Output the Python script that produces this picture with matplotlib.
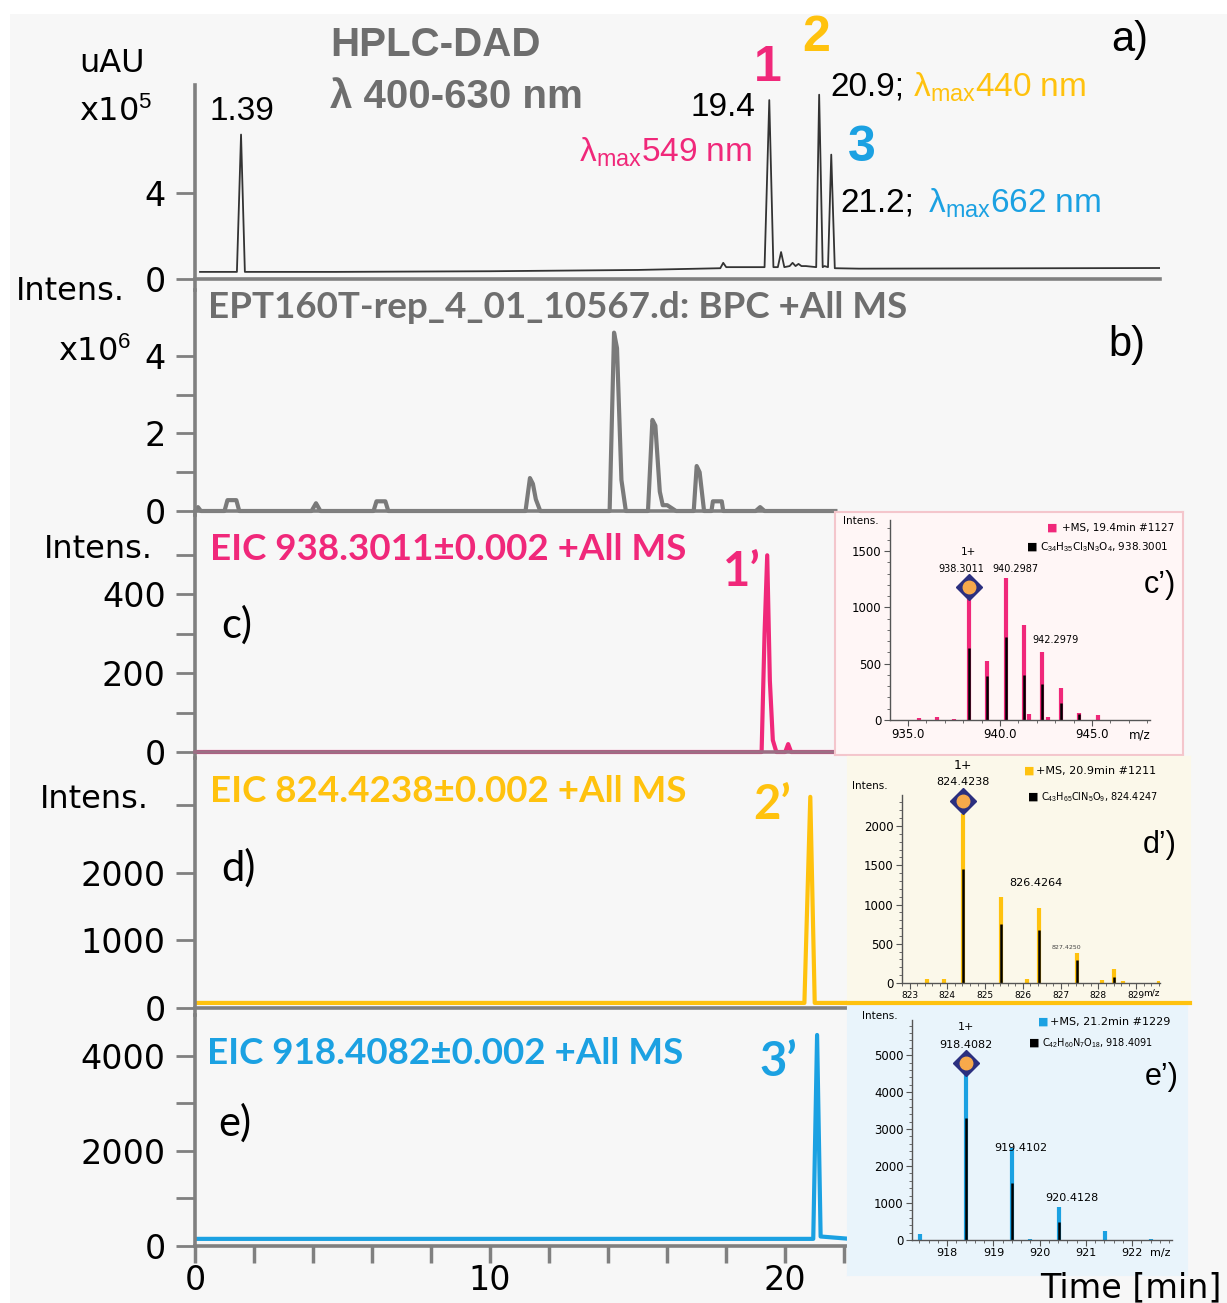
import numpy as np
import matplotlib
matplotlib.use('Agg')
import matplotlib.pyplot as plt
from matplotlib.patches import Rectangle
from matplotlib.ticker import MultipleLocator, FixedLocator

# ---- data ----
# a) HPLC-DAD trace (min, x10^5 uAU)
hplc_t = [0.17, 1.42, 1.56, 1.69, 4.75, 10.0, 15.0, 17.8, 17.9, 18.0, 19.3, 19.46, 19.6, 19.75, 19.86,
          19.97, 20.15, 20.25, 20.35, 20.45, 20.55, 20.7, 21.05, 21.15, 21.27, 21.33, 21.45, 21.56, 21.68,
          22.5, 32.7]
hplc_y = [0.33, 0.33, 6.7, 0.33, 0.33, 0.36, 0.42, 0.5, 0.75, 0.55, 0.55, 8.3, 0.55, 0.55, 1.25,
          0.55, 0.6, 0.75, 0.6, 0.7, 0.6, 0.6, 0.55, 8.55, 0.55, 0.6, 0.55, 5.77, 0.5,
          0.48, 0.51]

# b) BPC trace (min, x10^6)
bpc_t = [0.0, 0.1, 0.2, 1.0, 1.1, 1.4, 1.5, 3.95, 4.1, 4.25, 6.05, 6.15, 6.45, 6.55, 11.2, 11.35, 11.45,
         11.55, 11.7, 14.05, 14.2, 14.3, 14.45, 14.6, 15.35, 15.5, 15.6, 15.75, 15.85, 16.0, 16.3, 16.9,
         17.0, 17.1, 17.25, 17.5, 17.55, 17.85, 17.9, 19.0, 19.15, 19.3, 21.7]
bpc_y = [0, 0.1, 0, 0, 0.28, 0.28, 0, 0, 0.2, 0, 0, 0.25, 0.25, 0, 0, 0.85, 0.7,
         0.3, 0, 0, 4.6, 4.2, 0.8, 0, 0, 2.35, 2.2, 0.5, 0.15, 0.15, 0, 0,
         1.16, 1.0, 0, 0, 0.25, 0.25, 0, 0, 0.1, 0, 0]

# c-e) EIC traces
eic1_t = [0, 19.2, 19.3, 19.39, 19.48, 19.58, 19.7, 20.0, 20.1, 20.2, 21.7]
eic1_y = [0, 0, 300, 498, 180, 30, 0, 0, 20, 0, 0]
eic2_t = [0, 20.65, 20.85, 21.0, 22.2]
eic2_y = [75, 75, 3125, 75, 75]
eic3_t = [0, 20.95, 21.08, 21.2, 22.2]
eic3_y = [150, 150, 4440, 200, 150]

# mass spectra: measured (coloured) and simulated (black) peaks
ms1_mz = [935.6, 936.6, 937.5, 938.3, 939.3, 940.3, 941.3, 941.6, 942.3, 942.6, 943.3, 944.3, 945.3]
ms1_i = [15, 30, 12, 1075, 520, 1260, 840, 50, 600, 30, 280, 65, 45]
sim1_mz = [938.3, 939.3, 940.3, 941.3, 942.3, 943.3, 944.3]
sim1_i = [640, 390, 740, 400, 320, 150, 50]

ms2_mz = [823.45, 823.9, 824.42, 825.42, 826.1, 826.42, 827.42, 828.1, 828.42, 828.65, 829.6]
ms2_i = [50, 50, 2150, 1100, 45, 950, 380, 40, 180, 30, 30]
sim2_mz = [824.42, 825.42, 826.42, 827.42, 828.42]
sim2_i = [1450, 750, 680, 290, 80]

ms3_mz = [917.42, 918.41, 919.41, 919.8, 920.41, 921.41, 922.4]
ms3_i = [150, 4700, 2500, 30, 900, 250, 30]
sim3_mz = [918.41, 919.41, 920.41]
sim3_i = [3300, 1550, 480]

PINK = '#f0287a'
YEL = '#ffc20e'
BLUE = '#1ba1e2'
GREY = '#808080'
TGREY = '#6e6e6e'

W, H = 1227, 1303
plt.rcParams['font.family'] = ['DejaVu Sans']
plt.rcParams['mathtext.fontset'] = 'custom'
plt.rcParams['mathtext.rm'] = 'Liberation Sans'
plt.rcParams['mathtext.it'] = 'Liberation Sans'

fig = plt.figure(figsize=(W / 100, H / 100), dpi=100, facecolor='white')
fig.patches.append(Rectangle((10 / W, 0), 1, 1 - 14 / H, transform=fig.transFigure,
                             facecolor='#f7f7f7', edgecolor='none', zorder=-10))


def box(x0, y0, x1, y1):
    return [x0 / W, 1 - y1 / H, (x1 - x0) / W, (y1 - y0) / H]


def ftext(x, y, s, **kw):
    kw.setdefault('ha', 'center')
    kw.setdefault('va', 'center')
    return fig.text(x / W, 1 - y / H, s, **kw)


def panel(top, zero, bottom, ymax, xend):
    ax = fig.add_axes(box(195, top, 1160, bottom))
    ax.patch.set_alpha(0)
    ymin = -(bottom - zero) * ymax / (zero - top)
    ax.set_ylim(ymin, ymax)
    ax.set_xlim(0, 32.7)
    for s in ['top', 'right']:
        ax.spines[s].set_visible(False)
    ax.spines['left'].set_color(GREY)
    ax.spines['left'].set_linewidth(2.6)
    ax.spines['bottom'].set_position(('data', 0))
    ax.spines['bottom'].set_color(GREY)
    ax.spines['bottom'].set_linewidth(2.6)
    ax.spines['bottom'].set_bounds(0, xend)
    ax.tick_params(axis='y', which='both', direction='out', color=GREY, width=2, labelsize=24, pad=7)
    ax.tick_params(axis='y', which='major', length=14)
    ax.tick_params(axis='y', which='minor', length=14)
    ax.tick_params(axis='x', which='both', bottom=False, labelbottom=False)
    return ax


# a) HPLC-DAD
ax_a = panel(85, 279, 290, 9.0, 32.7)
ax_a.plot(hplc_t, hplc_y, color='#333333', lw=1.3)
ax_a.yaxis.set_major_locator(FixedLocator([0, 4]))

# b) BPC
ax_b = panel(290, 511, 515, 5.7, 21.7)
ax_b.plot(bpc_t, bpc_y, color='#7a7a7a', lw=3)
ax_b.yaxis.set_major_locator(FixedLocator([0, 2, 4]))
ax_b.yaxis.set_minor_locator(FixedLocator([1, 3]))

# c) EIC 1
ax_c = panel(515, 752, 758, 600, 21.7)
ax_c.plot(eic1_t, eic1_y, color=PINK, lw=3)
ax_c.spines['bottom'].set_color('#9b6f84')
ax_c.yaxis.set_major_locator(FixedLocator([0, 200, 400]))
ax_c.yaxis.set_minor_locator(FixedLocator([100, 300, 500]))

# d) EIC 2
ax_d = panel(758, 1008, 1015, 3700, 22.2)
ax_d.plot(eic2_t, eic2_y, color=YEL, lw=3)
ax_d.yaxis.set_major_locator(FixedLocator([0, 1000, 2000]))
ax_d.yaxis.set_minor_locator(FixedLocator([3000]))

# e) EIC 3
ax_e = panel(1015, 1246, 1246, 4860, 22.2)
ax_e.plot(eic3_t, eic3_y, color=BLUE, lw=3)
ax_e.yaxis.set_major_locator(FixedLocator([0, 2000, 4000]))
ax_e.yaxis.set_minor_locator(FixedLocator([1000, 3000]))
ax_e.tick_params(axis='x', which='both', bottom=True, labelbottom=True, direction='out',
                 color=GREY, width=2.5, length=12, labelsize=24, pad=1)
ax_e.xaxis.set_major_locator(FixedLocator([0, 10, 20]))
ax_e.xaxis.set_minor_locator(FixedLocator([2, 4, 6, 8, 12, 14, 16, 18, 22]))

# ---- axis captions ----
ftext(112, 63, 'uAU', fontsize=23)
ftext(116, 112, r'x10$^{5}$', fontsize=23)
ftext(70, 291, 'Intens.', fontsize=23)
ftext(95, 352, r'x10$^{6}$', fontsize=23)
ftext(98, 549, 'Intens.', fontsize=23)
ftext(94, 800, 'Intens.', fontsize=23)
ftext(1222, 1288, 'Time [min]', fontsize=24, ha='right')

# ---- panel a annotations ----
arial = 'Liberation Sans'
ftext(330, 45, 'HPLC-DAD', family=arial, weight='bold', fontsize=29, color=TGREY, ha='left')
ftext(330, 97, 'λ 400-630 nm', family=arial, weight='bold', fontsize=29, color=TGREY, ha='left')
ftext(210, 112, '1.39', family=arial, fontsize=24, ha='left')
ftext(755, 107, '19.4', family=arial, fontsize=24, ha='right')
ftext(752, 152, r'λ$_{\mathrm{max}}$549 nm', family=arial, fontsize=24, color=PINK, ha='right')
ftext(768, 68, '1', family=arial, weight='bold', fontsize=36, color=PINK)
ftext(816, 38, '2', family=arial, weight='bold', fontsize=36, color=YEL)
ftext(862, 148, '3', family=arial, weight='bold', fontsize=36, color=BLUE)
ftext(830, 87, '20.9;', family=arial, fontsize=24, ha='left')
ftext(913, 87, r'λ$_{\mathrm{max}}$440 nm', family=arial, fontsize=24, color=YEL, ha='left')
ftext(840, 203, '21.2;', family=arial, fontsize=24, ha='left')
ftext(928, 203, r'λ$_{\mathrm{max}}$662 nm', family=arial, fontsize=24, color=BLUE, ha='left')
ftext(1130, 40, 'a)', family=arial, fontsize=30)

# ---- panel b-e titles ----
lato = 'Lato'
ftext(208, 307, 'EPT160T-rep_4_01_10567.d: BPC +All MS', family=lato, weight='bold',
      fontsize=26.5, color=TGREY, ha='left')
ftext(1127, 345, 'b)', family=arial, fontsize=30)
ftext(210, 549, 'EIC 938.3011±0.002 +All MS', family=lato, weight='bold', fontsize=26.5, color=PINK, ha='left')
ftext(210, 792, 'EIC 824.4238±0.002 +All MS', family=lato, weight='bold', fontsize=26.5, color=YEL, ha='left')
ftext(207, 1053, 'EIC 918.4082±0.002 +All MS', family=lato, weight='bold', fontsize=26.5, color=BLUE, ha='left')
ftext(742, 572, '1’', family=lato, weight='bold', fontsize=34, color=PINK)
ftext(772, 805, '2’', family=lato, weight='bold', fontsize=34, color=YEL)
ftext(778, 1062, '3’', family=lato, weight='bold', fontsize=34, color=BLUE)
ftext(237, 625, 'c)', family=lato, fontsize=30)
ftext(238, 868, 'd)', family=lato, fontsize=30)
ftext(235, 1123, 'e)', family=lato, fontsize=30)


# ---- mass spectra insets ----
def inset(bg, face, edge, plot_box, xlim, ylim, ymajor, yminor, xmajor, xminor, xfmt, xls):
    bga = fig.add_axes(box(*bg))
    bga.set_facecolor(face)
    bga.set_xticks([])
    bga.set_yticks([])
    for s in bga.spines.values():
        s.set_color(edge)
        s.set_linewidth(1.5)
    ax = fig.add_axes(box(*plot_box))
    ax.patch.set_alpha(0)
    ax.set_xlim(*xlim)
    ax.set_ylim(*ylim)
    for s in ['top', 'right']:
        ax.spines[s].set_visible(False)
    for s in ['left', 'bottom']:
        ax.spines[s].set_color('#555555')
        ax.spines[s].set_linewidth(1)
    ax.yaxis.set_major_locator(MultipleLocator(ymajor))
    ax.yaxis.set_minor_locator(MultipleLocator(yminor))
    ax.xaxis.set_major_locator(MultipleLocator(xmajor))
    ax.xaxis.set_minor_locator(MultipleLocator(xminor))
    ax.xaxis.set_major_formatter(xfmt)
    ax.tick_params(which='major', length=4, width=0.8, color='#555555', labelsize=8.5, pad=2)
    ax.tick_params(which='minor', length=2.5, width=0.6, color='#555555')
    ax.tick_params(axis='x', labelsize=xls)
    return ax


def spectrum(ax, mz, inten, smz, sinten, col, mk_y):
    ax.vlines(mz, 0, inten, color=col, lw=3)
    ax.vlines(smz, 0, sinten, color='black', lw=1.8)
    ax.plot(smz[0], mk_y, marker='D', ms=13, mfc='#2b2f7f', mec='#2b2f7f', clip_on=False)
    ax.plot(smz[0], mk_y, marker='o', ms=9, mfc='#f7a94b', mec='#f7a94b', clip_on=False)


# c')
ax_c2 = inset((835, 512, 1183, 755), '#fff6f6', '#f4c6cc', (890, 520, 1150, 720),
              (934.02, 948.15), (0, 1775), 500, 100, 5, 1, '{x:.1f}', 8.5)
spectrum(ax_c2, ms1_mz, ms1_i, sim1_mz, sim1_i, PINK, 1180)
ax_c2.text(938.3, 1490, '1+', ha='center', va='center', fontsize=7.5)
ax_c2.text(937.9, 1340, '938.3011', ha='center', va='center', fontsize=7)
ax_c2.text(940.85, 1340, '940.2987', ha='center', va='center', fontsize=7)
ax_c2.text(943.0, 710, '942.2979', ha='center', va='center', fontsize=7)
ftext(1052, 528, '■', color=PINK, fontsize=8)
ftext(1062, 528, '+MS, 19.4min #1127', fontsize=7.5, ha='left')
ftext(1032, 547, '■', color='black', fontsize=8)
ftext(1040, 547, r'C$_{34}$H$_{35}$Cl$_{3}$N$_{3}$O$_{4}$, 938.3001', fontsize=7.5, ha='left')
ftext(861, 521, 'Intens.', fontsize=7.5)
ftext(1140, 735, 'm/z', fontsize=8.5)
ftext(1160, 585, 'c’)', family=arial, fontsize=22)

# d')
ax_d2 = inset((848, 757, 1190, 1003), '#fbf8ea', '#fbf8ea', (902, 795, 1160, 983),
              (822.8, 829.63), (0, 2395), 500, 100, 1, 0.2, '{x:.0f}', 6.5)
fig.lines.append(plt.Line2D([848 / W, 1190 / W], [1 - 1003 / H, 1 - 1003 / H], transform=fig.transFigure,
                            color=YEL, lw=3))
spectrum(ax_d2, ms2_mz, ms2_i, sim2_mz, sim2_i, YEL, 2318)
ax_d2.text(824.42, 2777, '1+', ha='center', va='center', fontsize=9, clip_on=False)
ax_d2.text(824.42, 2560, '824.4238', ha='center', va='center', fontsize=8, clip_on=False)
ax_d2.text(826.35, 1274, '826.4264', ha='center', va='center', fontsize=8)
ax_d2.text(827.15, 446, '827.4250', ha='center', va='center', fontsize=4.5, color='#444444')
ftext(1029, 771, '■', color=YEL, fontsize=8)
ftext(1036, 771, '+MS, 20.9min #1211', fontsize=8, ha='left')
ftext(1033, 797, '■', color='black', fontsize=8)
ftext(1041, 797, r'C$_{43}$H$_{65}$ClN$_{5}$O$_{9}$, 824.4247', fontsize=7, ha='left')
ftext(870, 786, 'Intens.', fontsize=7.5)
ftext(1151, 993, 'm/z', fontsize=6.5)
ftext(1160, 845, 'd’)', family=arial, fontsize=22)

# e')
ax_e2 = inset((848, 1005, 1187, 1275), '#e9f4fb', '#e9f4fb', (912, 1020, 1172, 1240),
              (917.24, 922.86), (0, 5950), 1000, 200, 1, 0.2, '{x:.0f}', 8)
spectrum(ax_e2, ms3_mz, ms3_i, sim3_mz, sim3_i, BLUE, 4800)
ax_e2.text(918.41, 5750, '1+', ha='center', va='center', fontsize=8)
ax_e2.text(918.41, 5280, '918.4082', ha='center', va='center', fontsize=8)
ax_e2.text(919.6, 2500, '919.4102', ha='center', va='center', fontsize=8)
ax_e2.text(920.7, 1140, '920.4128', ha='center', va='center', fontsize=8)
ftext(1043, 1022, '■', color=BLUE, fontsize=8)
ftext(1050, 1022, '+MS, 21.2min #1229', fontsize=8, ha='left')
ftext(1034, 1043, '■', color='black', fontsize=8)
ftext(1042, 1043, r'C$_{42}$H$_{60}$N$_{7}$O$_{18}$, 918.4091', fontsize=7, ha='left')
ftext(880, 1016, 'Intens.', fontsize=7.5)
ftext(1160, 1253, 'm/z', fontsize=8)
ftext(1162, 1077, 'e’)', family=arial, fontsize=22)

fig.savefig('out.png', dpi=100, facecolor=fig.get_facecolor())
